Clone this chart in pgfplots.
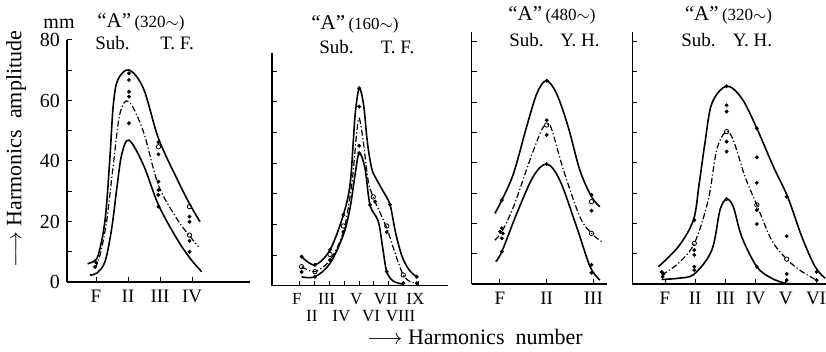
\documentclass[border=0pt]{standalone}
\usepackage{fontspec}
\setmainfont{Liberation Serif}
\usepackage{pgfplots}
\pgfplotsset{compat=1.18}
\tikzset{ttl/.style={anchor=base, font=\fontsize{9.5}{12}\selectfont}}
\begin{document}
\begin{tikzpicture}
\useasboundingbox (0,0) rectangle (413pt,176pt);
\pgfplotsset{
 panel/.style={scale only axis, axis lines=left, axis line style={-, line width=0.6pt},
   tick align=inside, major tick length=2.5pt, minor tick length=2.5pt,
   tick style={black, line width=0.5pt},
   ymin=0, clip=false, anchor=south west,
   /pgf/number format/assume math mode=true,
   xticklabel style={font=\fontsize{9.5}{11}\selectfont, yshift=-0.5pt},
   yticklabel style={font=\fontsize{10}{12}\selectfont}},
 up/.style={black, line width=0.8pt, smooth, tension=0.55, mark=none},
 mid/.style={black, line width=0.6pt, smooth, tension=0.55, mark=none, dash pattern=on 3pt off 1.2pt on 0.6pt off 1.2pt},
 dots/.style={only marks, mark=*, mark size=0.75pt, black},
 odots/.style={only marks, mark=o, mark size=1.1pt, black, mark options={line width=0.4pt}},
}
% ---------- Panel 1
\begin{axis}[panel, at={(33.5pt,35pt)}, width=91.5pt, height=121pt,
  xmin=0.094, xmax=5.81, ymax=80,
  xtick={1,2,3,4}, xticklabels={F,II,III,IV},
  ytick={0,20,40,60,80}, minor ytick={10,30,50,70}]
\addplot[up] coordinates {(0.74,6.0) (0.95,7.0) (1.07,8.9) (1.23,16.6) (1.33,25.5) (1.44,42) (1.54,58.5) (1.68,66.8) (2.03,70.1) (2.48,64) (2.95,47.5) (3.52,34.3) (3.94,25.5) (4.25,19.9)};
\addplot[mid] coordinates {(0.97,4.5) (1.125,8.9) (1.33,19.9) (1.54,38.7) (1.75,55.8) (2.03,59.6) (2.48,49.7) (2.95,32) (3.52,21) (3.94,15) (4.2,11.7)};
\addplot[up] coordinates {(0.81,2.3) (1.02,2.9) (1.28,6.7) (1.49,17.7) (1.65,31) (1.8,42) (2.03,46.9) (2.48,38.7) (2.95,25.5) (3.52,14.4) (3.94,7.8) (4.3,3.4)};
\addplot[dots] coordinates {(2.03,69) (2.03,66.8) (2.03,62.9) (2.03,61.3) (2.03,52.5) (2.95,46.2) (2.95,42.2) (2.95,33.2) (2.95,30.4) (2.95,28.8) (2.95,24.9) (3.92,21.6) (3.92,19.9) (3.92,13.6) (3.92,10) (1.0,6.5) (0.97,5)};
\addplot[odots] coordinates {(2.95,44.7) (3.92,24.9) (3.92,15.5)};
\end{axis}
% ---------- Panel 2
\begin{axis}[panel, at={(136pt,33.15pt)}, width=88pt, height=116.35pt,
  xmin=-0.89, xmax=11.0, ymax=76,
  xtick={1,3,5,7,9}, xticklabels={F,III,V,VII,IX},
  extra x ticks={2,4,6,8}, extra x tick labels={II,IV,VI,VIII},
  extra x tick style={tick label style={yshift=-8.5pt}},
  xticklabel style={font=\fontsize{8.5}{10}\selectfont, xshift=-1.5pt, inner sep=1pt, yshift=-2pt},
  ytick={10,20,...,70}, yticklabels={}]
\addplot[up] coordinates {(1.11,9.5) (2.01,6.8) (3.03,11.7) (3.93,23.1) (4.38,32.9) (4.6,47) (4.74,56.5) (5.0,64.5) (5.3,59) (5.55,47) (5.84,38.4) (6.14,35) (6.6,31) (7.08,26.5) (7.45,17.5) (7.9,9.5) (8.4,5) (8.89,2.9)};
\addplot[mid] coordinates {(1.11,6.2) (2.01,4.6) (3.03,8.4) (3.93,17.6) (4.49,32.9) (4.83,49.8) (5.0,54.7) (5.28,47) (5.62,34) (6.07,27.5) (6.86,18.8) (7.98,3.5) (8.89,0.8)};
\addplot[up] coordinates {(1.11,2.9) (2.01,2.9) (3.03,7.3) (3.93,16.6) (4.38,25.3) (4.72,36.2) (5.0,43.3) (5.39,38.4) (5.73,26.4) (6.29,21) (6.6,12) (6.86,4.6) (7.3,1.5) (7.98,0.5)};
\addplot[dots] coordinates {(1.11,9.5) (1.11,4.5) (2.01,6.8) (2.01,2.9) (3.03,11.7) (3.03,8.4) (3.93,23.1) (3.93,17.6) (5,64.5) (5,58.5) (5,45.7) (5,43.3) (6.07,27.5) (5.73,26.4) (6.86,17.5) (7.08,26.5) (6.86,4.6) (7.98,0.8) (8.89,2.9) (8.89,0.8)};
\addplot[odots] coordinates {(1.11,6.2) (2.01,4.6) (3.03,10.2) (3.93,19.5) (5.95,29) (6.86,19.5) (7.98,3.5)};
\end{axis}
% ---------- Panel 3
\begin{axis}[panel, at={(235.85pt,34pt)}, width=67.5pt, height=126.15pt,
  xmin=0.394, xmax=3.285, ymax=83.3,
  xtick={1,2,3}, xticklabels={F,II,III},
  ytick={10,20,...,80}, yticklabels={}]
\addplot[up] coordinates {(0.89,23.3) (1.04,27.7) (1.29,36.5) (1.57,51.9) (1.79,62.9) (1.99,67.1) (2.21,62.9) (2.46,51.9) (2.71,37.6) (2.96,28.8) (3.14,25.5)};
\addplot[mid] coordinates {(0.89,14.5) (1.04,17.3) (1.29,25.5) (1.64,40.9) (1.89,50.8) (2.0,52.5) (2.1,51.4) (2.36,37.6) (2.71,22.2) (2.96,16.7) (3.18,14)};
\addplot[up] coordinates {(0.91,7.4) (1.04,10.7) (1.36,23.3) (1.71,35.4) (2.0,39.6) (2.28,34.3) (2.64,18.9) (2.93,5.7) (3.14,1.3)};
\addplot[dots] coordinates {(1.04,27.7) (1.04,18.4) (1.0,17.3) (1.06,16.7) (1.04,15.1) (1.04,10.7) (2,67.1) (2,54.1) (2,49.2) (2,39.6) (2.96,29.4) (2.96,24.2) (2.96,6.3) (2.96,3.7)};
\addplot[odots] coordinates {(2,52.5) (2.96,27.2) (2.96,16.7)};
\end{axis}
% ---------- Panel 4
\begin{axis}[panel, at={(316.15pt,34pt)}, width=96.85pt, height=126.15pt,
  xmin=-0.083, xmax=6.33, ymax=83.3,
  xtick={1,2,3,4,5,6}, xticklabels={F,II,III,IV,V,VI},
  ytick={10,20,...,80}, yticklabels={}]
\addplot[up] coordinates {(0.78,5.7) (1.44,12.3) (1.94,21.1) (2.13,33) (2.32,46.4) (2.55,59.6) (3.04,65.3) (3.54,61.3) (4.04,51.4) (4.59,38.7) (5.06,28.8) (5.53,15.6) (5.97,5.7) (6.3,1.9)};
\addplot[mid] coordinates {(0.89,3) (1.44,6.8) (1.97,13.4) (2.43,27.7) (2.71,44.2) (3.02,50.3) (3.26,47.5) (3.65,35.4) (4.04,26.1) (4.53,14.5) (5.03,8.2) (5.53,4.1) (6.02,1.3)};
\addplot[up] coordinates {(0.89,1.5) (1.44,1.9) (1.97,3.3) (2.55,11.2) (2.82,24.4) (3.04,28) (3.26,25.5) (3.54,15.6) (4.04,5.7) (4.53,1.9) (5.03,0.2) (5.6,0)};
\addplot[dots] coordinates {(0.89,4) (0.95,3.3) (0.92,2.4) (1.97,11.2) (1.97,9.6) (1.97,5.7) (1.97,4.6) (1.97,21.1) (3.04,65.3) (3.04,59) (3.04,56.9) (3.04,47) (3.04,43.7) (3.04,28) (4.04,51.4) (4.04,41.8) (4.04,33.4) (4.04,24.4) (4.04,19.8) (4.04,5.7) (5.03,28.8) (5.03,15.8) (5.03,3.3) (5.03,1.3) (6.02,4) (6.02,1.3)};
\addplot[odots] coordinates {(1.97,13.4) (3.04,50.3) (4.04,26.1) (5.03,8.2)};
\end{axis}
% ---------- texts
\node[anchor=base, font=\fontsize{10}{12}\selectfont] at (29.5pt,161.8pt) {mm};
\node[anchor=base] at (70.5pt,162pt) {{\fontsize{10.5}{13}\selectfont “A”}\,{\fontsize{8.5}{10}\selectfont (320$\sim$)}};
\node[ttl] at (56.25pt,151pt) {Sub.};
\node[ttl] at (88.5pt,151pt) {T.~F.};
\node[anchor=base] at (177.5pt,161.3pt) {{\fontsize{10.5}{13}\selectfont “A”}\,{\fontsize{8.5}{10}\selectfont (160$\sim$)}};
\node[ttl] at (168.25pt,149.3pt) {Sub.};
\node[ttl] at (198.75pt,149.3pt) {T.~F.};
\node[anchor=base] at (276pt,165.7pt) {{\fontsize{10.5}{13}\selectfont “A”}\,{\fontsize{8.5}{10}\selectfont (480$\sim$)}};
\node[ttl] at (263.25pt,152.7pt) {Sub.};
\node[ttl] at (290pt,152.7pt) {Y.~H.};
\node[anchor=base] at (364.25pt,165.7pt) {{\fontsize{10.5}{13}\selectfont “A”}\,{\fontsize{8.5}{10}\selectfont (320$\sim$)}};
\node[ttl] at (349.25pt,152.7pt) {Sub.};
\node[ttl] at (376.25pt,152.7pt) {Y.~H.};
\node[rotate=90, font=\fontsize{11}{13}\selectfont] at (8pt,101.5pt) {$\longrightarrow$ Harmonics\ \ amplitude};
\node[font=\fontsize{11}{13}\selectfont] at (237.5pt,7.5pt) {$\longrightarrow$ Harmonics\ \ number};
\end{tikzpicture}
\end{document}
